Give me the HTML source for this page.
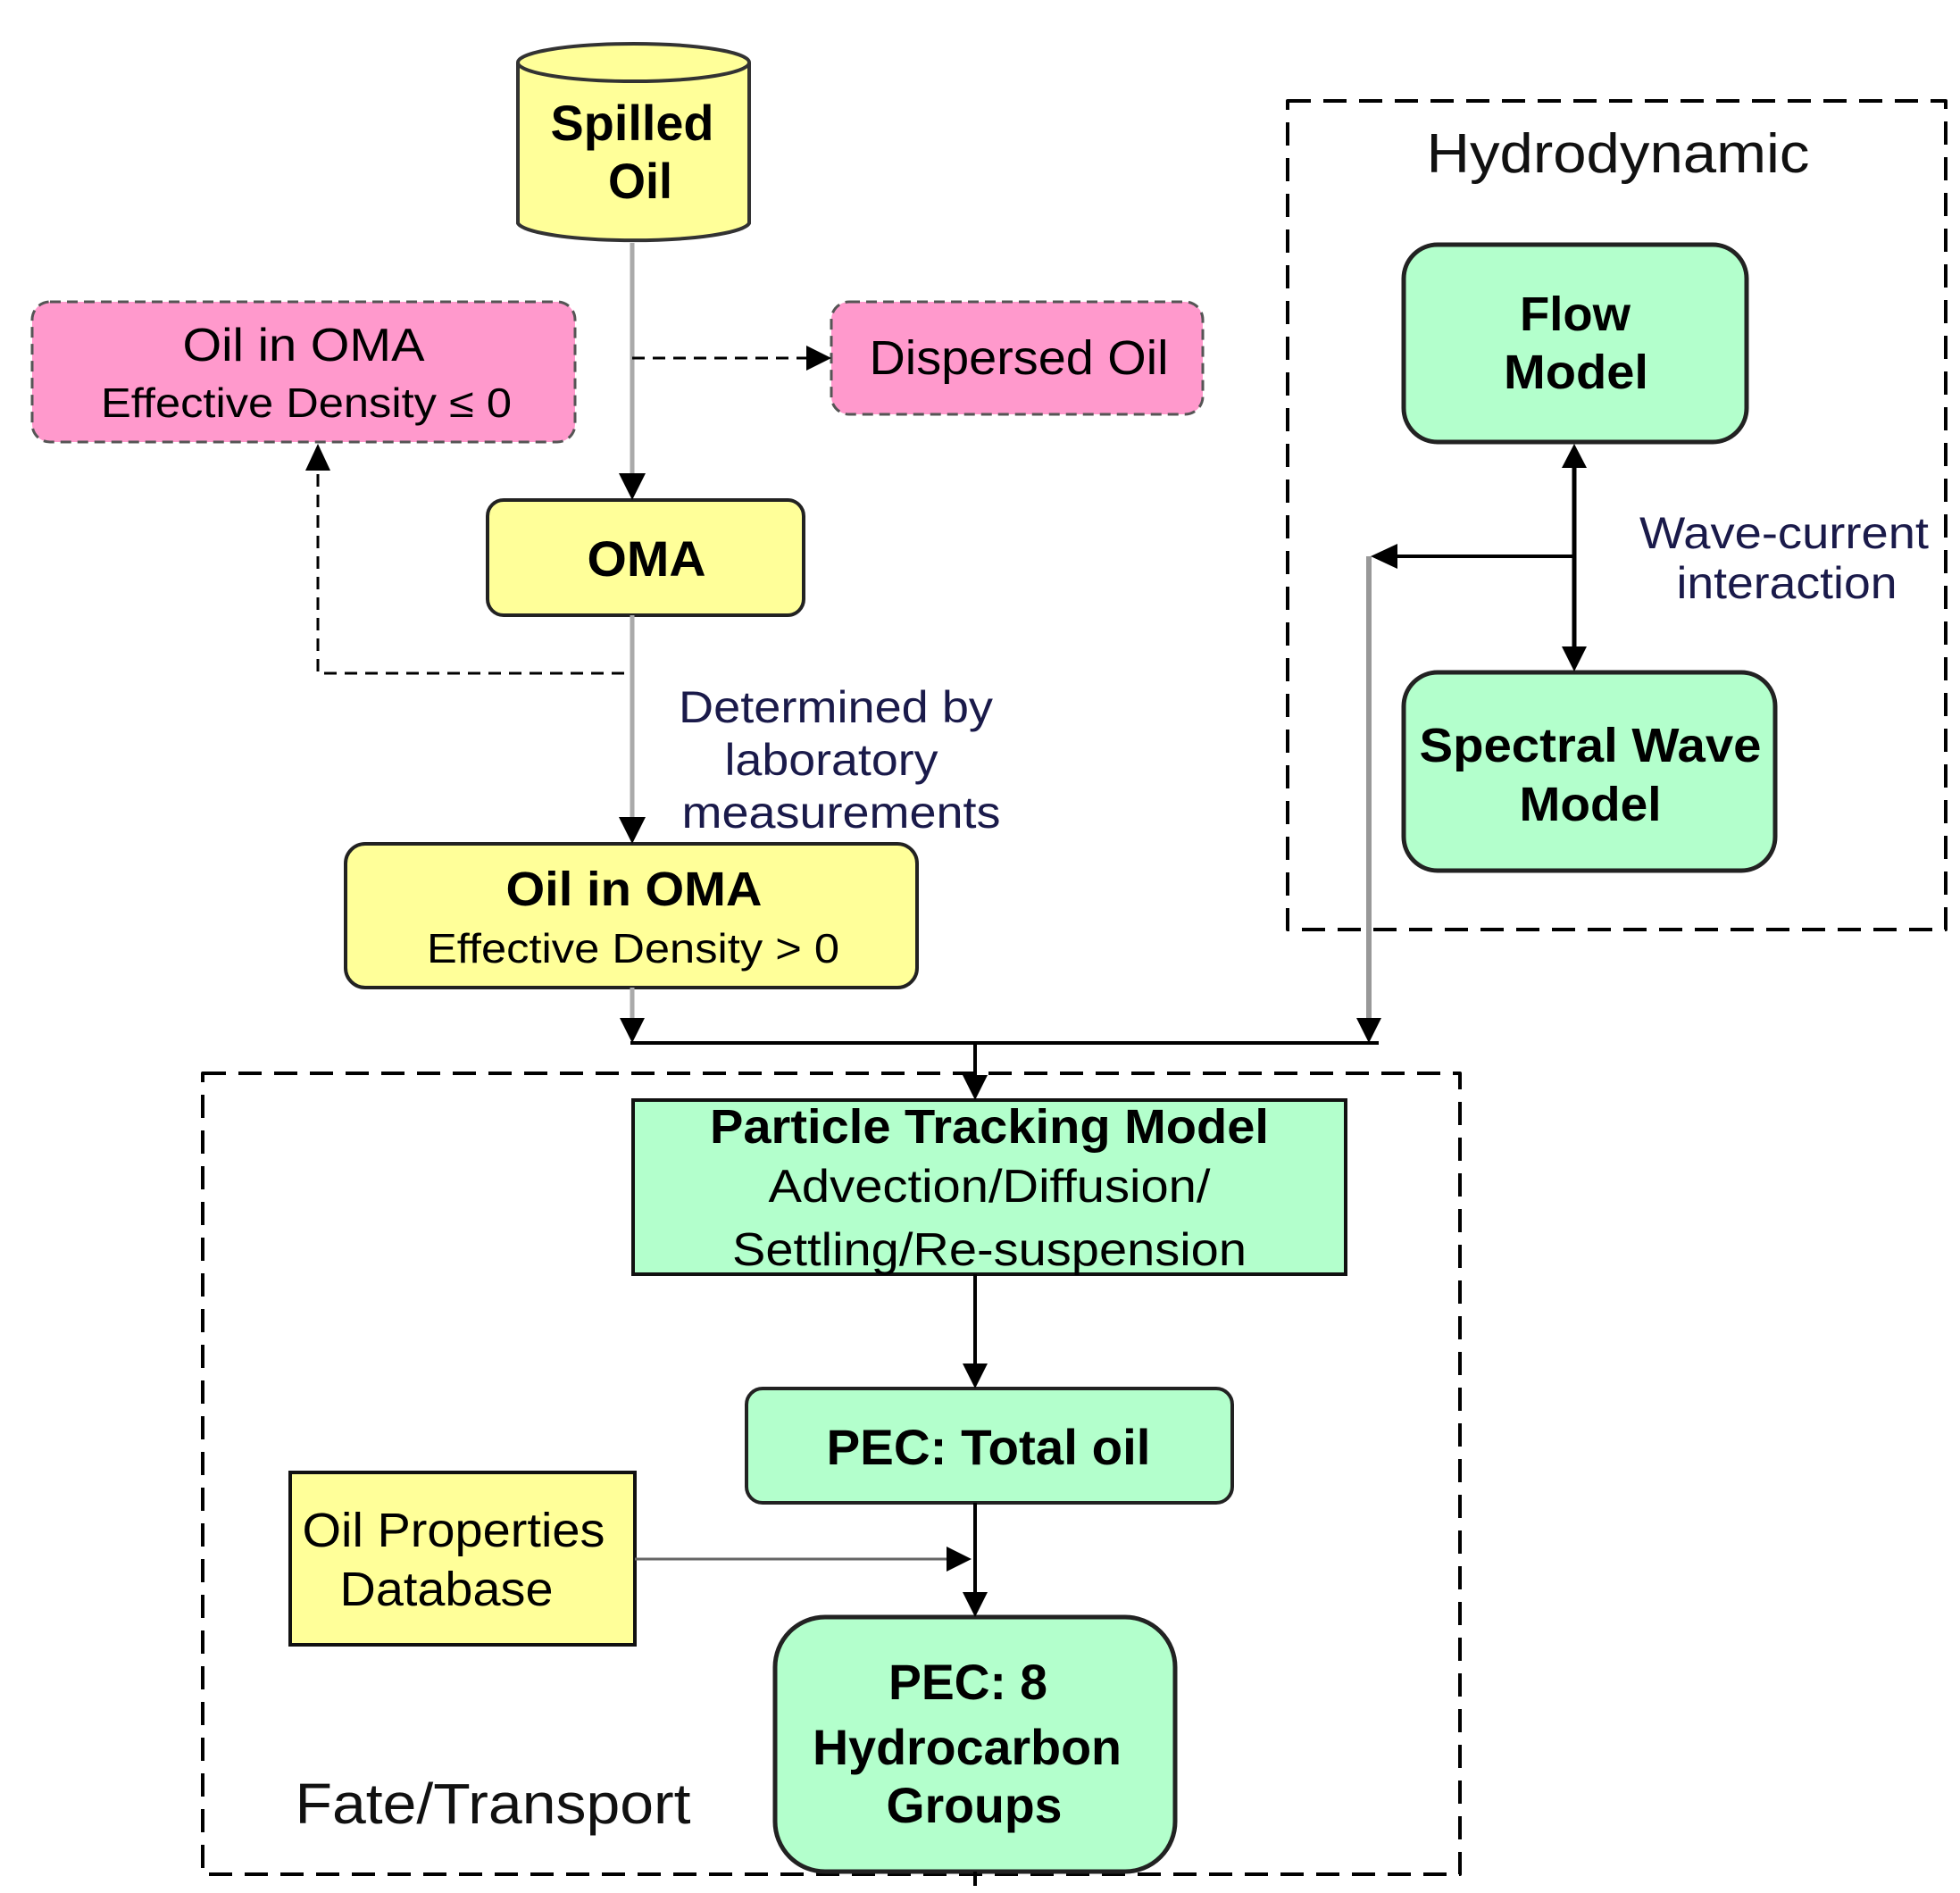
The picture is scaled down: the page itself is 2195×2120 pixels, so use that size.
<!DOCTYPE html>
<html><head><meta charset="utf-8"><style>
html,body{margin:0;padding:0;background:#fff;}
svg{display:block;}
text{font-family:"Liberation Sans Narrow","Liberation Sans",sans-serif;}
.w{font-family:"Liberation Sans",sans-serif;}
</style></head><body>
<svg width="2195" height="2120" viewBox="0 0 2195 2120" xmlns="http://www.w3.org/2000/svg">
<defs>
<marker id="a" viewBox="0 0 10 10" refX="10" refY="5" markerWidth="10" markerHeight="10" markerUnits="userSpaceOnUse" orient="auto"><path d="M0,0 L10,5 L0,10 z" fill="#000"/></marker>
</defs>
<g fill="none" stroke-linejoin="round">
<!-- dashed containers -->
<rect x="1442" y="113" width="737" height="928" stroke="#000" stroke-width="4" stroke-dasharray="26,14"/>
<rect x="227" y="1202" width="1408" height="897" stroke="#000" stroke-width="4" stroke-dasharray="26,14"/>
</g>

<!-- Cylinder -->
<path d="M580,70 L580,250 A130,21 0 0 0 839,250 L839,70" fill="#ffff99" stroke="#333" stroke-width="4"/>
<ellipse cx="709.5" cy="70" rx="129.5" ry="21" fill="#ffff99" stroke="#333" stroke-width="4"/>
<text x="708" y="157" font-size="56" font-weight="bold" text-anchor="middle" textLength="183" lengthAdjust="spacingAndGlyphs">Spilled</text>
<text x="717" y="222" font-size="56" font-weight="bold" text-anchor="middle" textLength="72" lengthAdjust="spacingAndGlyphs">Oil</text>

<!-- pink boxes -->
<rect x="36" y="338" width="608" height="157" rx="20" fill="#ff99cc" stroke="#555" stroke-width="3" stroke-dasharray="12,7"/>
<text x="340" y="404" font-size="52" text-anchor="middle" textLength="271" lengthAdjust="spacingAndGlyphs">Oil in OMA</text>
<text x="343" y="467" font-size="46" text-anchor="middle" textLength="460" lengthAdjust="spacingAndGlyphs">Effective Density ≤ 0</text>
<rect x="931" y="338" width="416" height="126" rx="20" fill="#ff99cc" stroke="#555" stroke-width="3" stroke-dasharray="12,7"/>
<text x="1141" y="419" font-size="54" text-anchor="middle" textLength="335" lengthAdjust="spacingAndGlyphs">Dispersed Oil</text>

<!-- OMA -->
<rect x="546" y="560" width="354" height="129" rx="18" fill="#ffff99" stroke="#222" stroke-width="4"/>
<text x="724" y="645" font-size="56" font-weight="bold" text-anchor="middle" textLength="133" lengthAdjust="spacingAndGlyphs">OMA</text>

<!-- Oil in OMA >0 -->
<rect x="387" y="945" width="640" height="161" rx="22" fill="#ffff99" stroke="#222" stroke-width="4"/>
<text x="710" y="1014" font-size="54" font-weight="bold" text-anchor="middle" textLength="287" lengthAdjust="spacingAndGlyphs">Oil in OMA</text>
<text x="709" y="1078" font-size="46" text-anchor="middle" textLength="462" lengthAdjust="spacingAndGlyphs">Effective Density &gt; 0</text>

<!-- Label -->
<g fill="#1a1a4a" font-size="50" text-anchor="middle">
<text x="936" y="809" textLength="352" lengthAdjust="spacingAndGlyphs">Determined by</text>
<text x="931" y="868" textLength="239" lengthAdjust="spacingAndGlyphs">laboratory</text>
<text x="942" y="927" textLength="357" lengthAdjust="spacingAndGlyphs">measurements</text>
</g>

<!-- Hydrodynamic -->
<text class="w" x="1812" y="193" font-size="62" fill="#111" text-anchor="middle" textLength="429" lengthAdjust="spacingAndGlyphs">Hydrodynamic</text>
<rect x="1572" y="274" width="384" height="221" rx="38" fill="#b3ffcc" stroke="#222" stroke-width="5"/>
<text class="w" x="1764" y="370" font-size="54" font-weight="bold" text-anchor="middle" textLength="124" lengthAdjust="spacingAndGlyphs">Flow</text>
<text class="w" x="1765" y="435" font-size="54" font-weight="bold" text-anchor="middle" textLength="162" lengthAdjust="spacingAndGlyphs">Model</text>
<rect x="1572" y="753" width="416" height="222" rx="38" fill="#b3ffcc" stroke="#222" stroke-width="5"/>
<text class="w" x="1781" y="853" font-size="54" font-weight="bold" text-anchor="middle" textLength="383" lengthAdjust="spacingAndGlyphs">Spectral Wave</text>
<text class="w" x="1781" y="919" font-size="54" font-weight="bold" text-anchor="middle" textLength="159" lengthAdjust="spacingAndGlyphs">Model</text>
<g class="w" fill="#1a1a4a" font-size="50" text-anchor="middle">
<text class="w" x="1998" y="614" textLength="324" lengthAdjust="spacingAndGlyphs">Wave-current</text>
<text class="w" x="2001" y="670" textLength="247" lengthAdjust="spacingAndGlyphs">interaction</text>
</g>

<!-- Particle tracking -->
<rect x="709" y="1232" width="798" height="195" fill="#b3ffcc" stroke="#111" stroke-width="4"/>
<text x="1108" y="1280" font-size="54" font-weight="bold" text-anchor="middle" textLength="626" lengthAdjust="spacingAndGlyphs">Particle Tracking Model</text>
<text x="1108" y="1346" font-size="52" text-anchor="middle" textLength="495" lengthAdjust="spacingAndGlyphs">Advection/Diffusion/</text>
<text x="1108" y="1417" font-size="52" text-anchor="middle" textLength="576" lengthAdjust="spacingAndGlyphs">Settling/Re-suspension</text>

<!-- PEC total -->
<rect x="836" y="1555" width="544" height="128" rx="18" fill="#b3ffcc" stroke="#222" stroke-width="4"/>
<text x="1107" y="1640" font-size="56" font-weight="bold" text-anchor="middle" textLength="363" lengthAdjust="spacingAndGlyphs">PEC: Total oil</text>

<!-- Oil properties -->
<rect x="325" y="1649" width="386" height="193" fill="#ffff99" stroke="#111" stroke-width="4"/>
<text x="508" y="1732" font-size="54" text-anchor="middle" textLength="339" lengthAdjust="spacingAndGlyphs">Oil Properties</text>
<text x="500" y="1798" font-size="54" text-anchor="middle" textLength="239" lengthAdjust="spacingAndGlyphs">Database</text>

<!-- PEC 8 -->
<rect x="868" y="1811" width="448" height="285" rx="56" fill="#b3ffcc" stroke="#222" stroke-width="5"/>
<text x="1084" y="1903" font-size="56" font-weight="bold" text-anchor="middle" textLength="178" lengthAdjust="spacingAndGlyphs">PEC: 8</text>
<text x="1083" y="1976" font-size="56" font-weight="bold" text-anchor="middle" textLength="346" lengthAdjust="spacingAndGlyphs">Hydrocarbon</text>
<text x="1091" y="2041" font-size="56" font-weight="bold" text-anchor="middle" textLength="197" lengthAdjust="spacingAndGlyphs">Groups</text>

<text x="552" y="2042" font-size="64" fill="#111" text-anchor="middle" textLength="443" lengthAdjust="spacingAndGlyphs">Fate/Transport</text>

<!-- connectors -->
<g fill="none">
<line x1="708" y1="272" x2="708" y2="532" stroke="#aaa" stroke-width="5"/>
<path d="M693,530 L723,530 L708,560 z" fill="#000"/>
<line x1="708" y1="401" x2="905" y2="401" stroke="#000" stroke-width="3" stroke-dasharray="14,9"/>
<path d="M903,387 L931,401 L903,415 z" fill="#000"/>
<line x1="708" y1="689" x2="708" y2="917" stroke="#aaa" stroke-width="5"/>
<path d="M693,915 L723,915 L708,945 z" fill="#000"/>
<path d="M699,754 L356,754 L356,525" stroke="#000" stroke-width="3" stroke-dasharray="14,9"/>
<path d="M342,527 L370,527 L356,497 z" fill="#000"/>
<line x1="708" y1="1106" x2="708" y2="1142" stroke="#aaa" stroke-width="5"/>
<path d="M694,1140 L722,1140 L708,1168 z" fill="#000"/>
<line x1="706" y1="1168" x2="1544" y2="1168" stroke="#000" stroke-width="4"/>
<line x1="1092" y1="1168" x2="1092" y2="1206" stroke="#000" stroke-width="4"/>
<path d="M1078,1204 L1106,1204 L1092,1232 z" fill="#000"/>
<!-- hydro to particle -->
<line x1="1533" y1="623" x2="1533" y2="1142" stroke="#999" stroke-width="6"/>
<path d="M1519,1140 L1547,1140 L1533,1168 z" fill="#000"/>
<line x1="1560" y1="623" x2="1763" y2="623" stroke="#000" stroke-width="4"/>
<path d="M1565,609 L1565,637 L1535,623 z" fill="#000"/>
<line x1="1763" y1="522" x2="1763" y2="726" stroke="#000" stroke-width="5"/>
<path d="M1749,524 L1777,524 L1763,497 z" fill="#000"/>
<path d="M1749,724 L1777,724 L1763,752 z" fill="#000"/>
<!-- lower -->
<line x1="1092" y1="1427" x2="1092" y2="1529" stroke="#000" stroke-width="4"/>
<path d="M1078,1527 L1106,1527 L1092,1555 z" fill="#000"/>
<line x1="1092" y1="1683" x2="1092" y2="1785" stroke="#000" stroke-width="4"/>
<path d="M1078,1783 L1106,1783 L1092,1811 z" fill="#000"/>
<line x1="711" y1="1746" x2="1062" y2="1746" stroke="#666" stroke-width="3"/>
<path d="M1060,1732 L1088,1746 L1060,1760 z" fill="#000"/>
<line x1="1092" y1="2096" x2="1092" y2="2112" stroke="#000" stroke-width="4"/>
</g>
</svg>
</body></html>
